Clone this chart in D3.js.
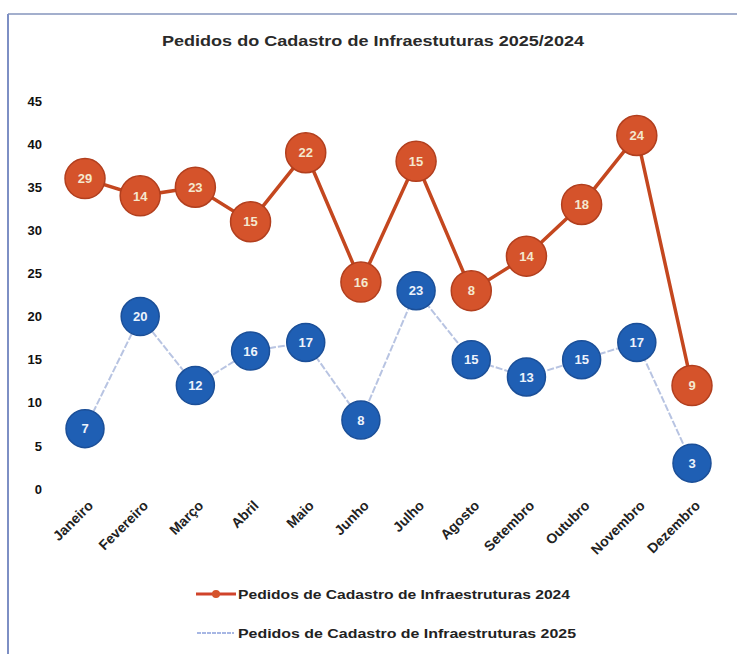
<!DOCTYPE html>
<html><head><meta charset="utf-8">
<script src="https://cdn.jsdelivr.net/npm/d3@7"></script>
<style>body{margin:0;background:#fff}svg{display:block}</style>
</head><body>
<svg id="c" width="737" height="654"></svg>
<script>
const months = ["Janeiro","Fevereiro","Março","Abril","Maio","Junho","Julho","Agosto","Setembro","Outubro","Novembro","Dezembro"];
const values2025 = [7,20,12,16,17,8,23,15,13,15,17,3];
const values2024 = [29,14,23,15,22,16,15,8,14,18,24,9];
const yTicks = [0,5,10,15,20,25,30,35,40,45];
const title = "Pedidos do Cadastro de Infraestuturas 2025/2024";
const legend2024 = "Pedidos de Cadastro de Infraestruturas 2024";
const legend2025 = "Pedidos de Cadastro de Infraestruturas 2025";

const svg = d3.select("#c");
const font = "'Liberation Sans', Arial, sans-serif";

// frame
svg.append("line").attr("x1",8).attr("y1",14).attr("x2",737).attr("y2",14).attr("stroke","#8595bd").attr("stroke-width",1.5);
svg.append("line").attr("x1",8).attr("y1",14).attr("x2",8).attr("y2",654).attr("stroke","#7d8fc4").attr("stroke-width",2);

svg.append("text").attr("x",373).attr("y",46).attr("text-anchor","middle")
  .attr("font-family",font).attr("font-weight","bold").attr("font-size",15)
  .attr("fill","#2a2a2a").attr("textLength",422).attr("lengthAdjust","spacingAndGlyphs").text(title);

// stacked data: 2025 bottom, 2024 on top
const rows = months.map((m,i)=>({m, a:values2025[i], b:values2024[i]}));
const stack = d3.stack().keys(["a","b"])(rows);

const x = d3.scalePoint().domain(months).range([85,692]);
const y = d3.scaleLinear().domain([0,45]).range([489,101]);

// y axis (labels only)
const yAxis = d3.axisLeft(y).tickValues(yTicks).tickSize(0).tickPadding(0);
const gy = svg.append("g").attr("transform","translate(42,0)").call(yAxis);
gy.select(".domain").remove();
gy.selectAll("text").attr("font-family",font).attr("font-weight","bold").attr("font-size",13).attr("fill","#111");

// x axis
const xAxis = d3.axisBottom(x).tickSize(0).tickPadding(0);
const gx = svg.append("g").attr("transform","translate(5,503)").call(xAxis);
gx.select(".domain").remove();
gx.selectAll("text").attr("font-family",font).attr("font-weight","bold").attr("font-size",14)
  .attr("fill","#222").attr("text-anchor","end").attr("dy","0.35em")
  .attr("transform","rotate(-45)");

// 2025 line (thin light blue)
const line2025 = d3.line().x(d=>x(d.data.m)).y(d=>y(d[1]));
svg.append("path").datum(stack[0]).attr("d",line2025).attr("fill","none")
  .attr("stroke","#b8c4e2").attr("stroke-width",2).attr("stroke-dasharray","7,2");

// 2024 line (stacked)
const line2024 = d3.line().x(d=>x(d.data.m)).y(d=>y(d[1]));
svg.append("path").datum(stack[1]).attr("d",line2024).attr("fill","none")
  .attr("stroke","#c4471f").attr("stroke-width",3.5);

// markers 2025
const g25 = svg.append("g").selectAll("g").data(stack[0]).join("g")
  .attr("transform",d=>`translate(${x(d.data.m)},${y(d[1])})`);
g25.append("circle").attr("r",19).attr("fill","#1f5fb4").attr("stroke","#1b4f98").attr("stroke-width",1.5);
g25.append("text").attr("text-anchor","middle").attr("dy","0.36em")
  .attr("font-family",font).attr("font-weight","bold").attr("font-size",13).attr("fill","#eef3fb")
  .text(d=>d.data.a);

// markers 2024
const g24 = svg.append("g").selectAll("g").data(stack[1]).join("g")
  .attr("transform",d=>`translate(${x(d.data.m)},${y(d[1])})`);
g24.append("circle").attr("r",20).attr("fill","#d5532b").attr("stroke","#b23f1e").attr("stroke-width",1.5);
g24.append("text").attr("text-anchor","middle").attr("dy","0.36em")
  .attr("font-family",font).attr("font-weight","bold").attr("font-size",13).attr("fill","#f4e8cf")
  .text(d=>d.data.b);

// legend
const lg = svg.append("g");
lg.append("line").attr("x1",196).attr("y1",594).attr("x2",236).attr("y2",594).attr("stroke","#d0432a").attr("stroke-width",3);
lg.append("circle").attr("cx",216).attr("cy",594).attr("r",4).attr("fill","#d5532b");
lg.append("text").attr("x",238).attr("y",599).attr("font-family",font).attr("font-weight","bold").attr("font-size",13)
  .attr("fill","#222").attr("textLength",332).attr("lengthAdjust","spacingAndGlyphs").text(legend2024);
lg.append("line").attr("x1",197).attr("y1",633).attr("x2",234).attr("y2",633).attr("stroke","#8aa0dc").attr("stroke-width",1.5).attr("stroke-dasharray","4,1");
lg.append("text").attr("x",238).attr("y",638).attr("font-family",font).attr("font-weight","bold").attr("font-size",13)
  .attr("fill","#222").attr("textLength",338).attr("lengthAdjust","spacingAndGlyphs").text(legend2025);
</script>
</body></html>
